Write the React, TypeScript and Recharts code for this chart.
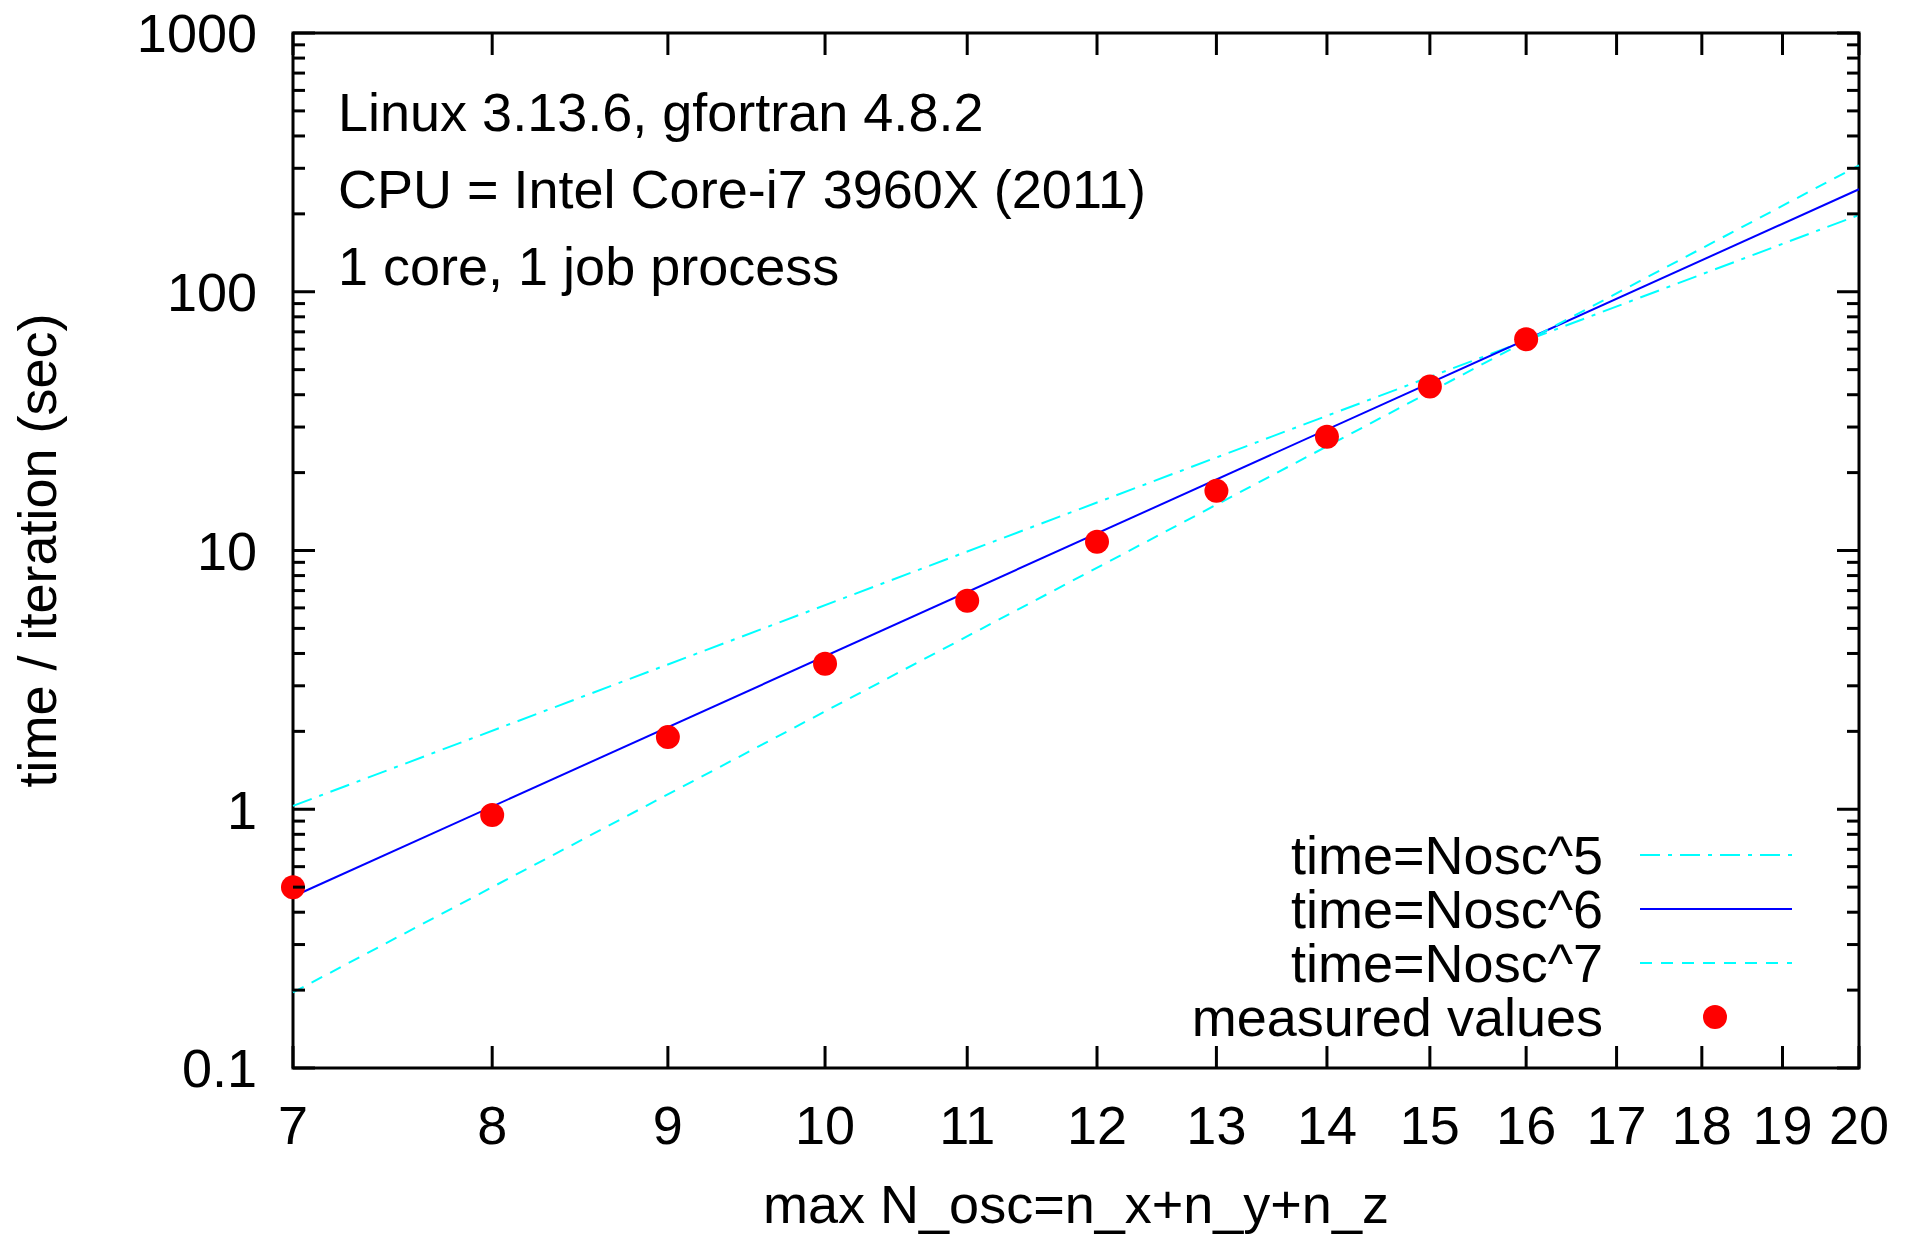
import {
  ComposedChart,
  Line,
  Scatter,
  XAxis,
  YAxis,
  ReferenceArea,
  Customized,
} from "recharts";

// measured timings
const measuredN = [7, 8, 9, 10, 11, 12, 13, 14, 15, 16];
const measuredTime = [0.5, 0.95, 1.9, 3.65, 6.4, 10.8, 17.0, 27.5, 43, 65.5];

// power-law guide lines, end points at N=7 and N=20
const fitN = [7, 20];
const fitNosc5 = [1.03, 198];
const fitNosc6 = [0.46, 249];
const fitNosc7 = [0.196, 308];

const xTicks = [7, 8, 9, 10, 11, 12, 13, 14, 15, 16, 17, 18, 19, 20];
const yMajor = [0.1, 1, 10, 100, 1000];
const yTicks = [
  0.1, 0.2, 0.3, 0.4, 0.5, 0.6, 0.7, 0.8, 0.9,
  1, 2, 3, 4, 5, 6, 7, 8, 9,
  10, 20, 30, 40, 50, 60, 70, 80, 90,
  100, 200, 300, 400, 500, 600, 700, 800, 900,
  1000,
];

const infoLines = [
  "Linux 3.13.6, gfortran 4.8.2",
  "CPU = Intel Core-i7 3960X (2011)",
  "1 core, 1 job process",
];

const W = 1914;
const H = 1235;
const LEFT = 293;
const TOP = 33;
const RIGHT = 55;
const BOTTOM = 167;
const PLOT_W = W - LEFT - RIGHT;
const PLOT_H = H - TOP - BOTTOM;
const FONT = "'Liberation Sans', Arial, sans-serif";
const FS = 54;

const toPoints = (xs: number[], ys: number[]) =>
  xs.map((x, i) => ({ x, y: ys[i] }));

const series = [
  { name: "time=Nosc^5", data: toPoints(fitN, fitNosc5), color: "#00ffff", dash: "20 8 4 8" },
  { name: "time=Nosc^6", data: toPoints(fitN, fitNosc6), color: "#0000ff", dash: undefined },
  { name: "time=Nosc^7", data: toPoints(fitN, fitNosc7), color: "#00ffff", dash: "12 9" },
];
const measured = toPoints(measuredN, measuredTime);

const XTick = ({ x, y, payload }: any) => (
  <g>
    <line x1={x} y1={y} x2={x} y2={y - 22} stroke="#000" strokeWidth={3} />
    <line x1={x} y1={y - PLOT_H} x2={x} y2={y - PLOT_H + 22} stroke="#000" strokeWidth={3} />
    <text x={x} y={y + 76} textAnchor="middle" fontSize={FS} fontFamily={FONT} fill="#000">
      {payload.value}
    </text>
  </g>
);

const YTick = ({ x, y, payload }: any) => {
  const major = yMajor.includes(payload.value);
  const len = major ? 22 : 12;
  return (
    <g>
      <line x1={x} y1={y} x2={x + len} y2={y} stroke="#000" strokeWidth={3} />
      <line x1={x + PLOT_W} y1={y} x2={x + PLOT_W - len} y2={y} stroke="#000" strokeWidth={3} />
      {major && (
        <text x={x - 36} y={y} dy="0.36em" textAnchor="end" fontSize={FS} fontFamily={FONT} fill="#000">
          {payload.value}
        </text>
      )}
    </g>
  );
};

const Info = () => (
  <g>
    {infoLines.map((t, i) => (
      <text key={t} x={LEFT + 45} y={131 + i * 77} fontSize={FS} fontFamily={FONT} fill="#000">
        {t}
      </text>
    ))}
  </g>
);

// key box in the lower right corner, gnuplot style
const KEY_X = 1603;
const KEY_Y = 855;
const ROW = 54;
const KeyBox = () => (
  <g>
    {series.map((s, i) => (
      <g key={s.name}>
        <text x={KEY_X} y={KEY_Y + i * ROW} dy="0.36em" textAnchor="end" fontSize={FS} fontFamily={FONT} fill="#000">
          {s.name}
        </text>
        <line
          x1={KEY_X + 37}
          x2={KEY_X + 189}
          y1={KEY_Y + i * ROW}
          y2={KEY_Y + i * ROW}
          stroke={s.color}
          strokeWidth={2}
          strokeDasharray={s.dash}
        />
      </g>
    ))}
    <text x={KEY_X} y={KEY_Y + 3 * ROW} dy="0.36em" textAnchor="end" fontSize={FS} fontFamily={FONT} fill="#000">
      measured values
    </text>
    <circle cx={KEY_X + 112} cy={KEY_Y + 3 * ROW} r={12} fill="#ff0000" />
  </g>
);

export default function App() {
  return (
    <div style={{ position: "absolute", left: 0, top: 0, background: "#fff" }}>
      <ComposedChart width={W} height={H} margin={{ top: TOP, right: RIGHT, left: 0, bottom: 0 }}>
        <XAxis
          dataKey="x"
          type="number"
          scale="log"
          domain={[7, 20]}
          ticks={xTicks}
          interval={0}
          axisLine={false}
          tickLine={false}
          tickSize={0}
          tickMargin={0}
          height={BOTTOM}
          tick={<XTick />}
          label={({ viewBox }: any) => (
            <text
              x={viewBox.x + viewBox.width / 2}
              y={viewBox.y + 155}
              textAnchor="middle"
              fontSize={FS}
              fontFamily={FONT}
              fill="#000"
            >
              max N_osc=n_x+n_y+n_z
            </text>
          )}
        />
        <YAxis
          dataKey="y"
          type="number"
          scale="log"
          domain={[0.1, 1000]}
          ticks={yTicks}
          interval={0}
          axisLine={false}
          tickLine={false}
          tickSize={0}
          tickMargin={0}
          width={LEFT}
          tick={<YTick />}
          label={({ viewBox }: any) => {
            const cx = viewBox.x + 56;
            const cy = viewBox.y + viewBox.height / 2;
            return (
              <text
                x={cx}
                y={cy}
                transform={`rotate(-90 ${cx} ${cy})`}
                textAnchor="middle"
                fontSize={FS}
                fontFamily={FONT}
                fill="#000"
              >
                time / iteration (sec)
              </text>
            );
          }}
        />
        <ReferenceArea x1={7} x2={20} y1={0.1} y2={1000} fill="none" stroke="#000" strokeWidth={3} />
        {series.map((s) => (
          <Line
            key={s.name}
            data={s.data}
            dataKey="y"
            name={s.name}
            type="linear"
            stroke={s.color}
            strokeWidth={2}
            strokeDasharray={s.dash}
            dot={false}
            activeDot={false}
            isAnimationActive={false}
          />
        ))}
        <Scatter
          data={measured}
          dataKey="y"
          name="measured values"
          fill="#ff0000"
          isAnimationActive={false}
          shape={(p: any) => <circle cx={p.cx} cy={p.cy} r={12} fill="#ff0000" />}
        />
        <Customized component={Info} />
        <Customized component={KeyBox} />
      </ComposedChart>
    </div>
  );
}
